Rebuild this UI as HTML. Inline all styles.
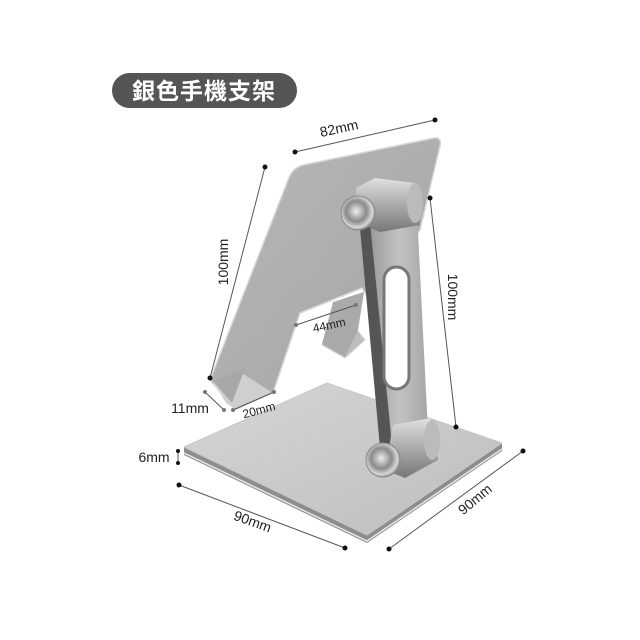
<!DOCTYPE html>
<html><head><meta charset="utf-8"><style>
html,body{margin:0;padding:0;background:#fff;}
svg{display:block}
text{font-family:"Liberation Sans","Noto Sans CJK TC",sans-serif;fill:#222;}
</style></head><body>
<svg width="640" height="640" viewBox="0 0 640 640" xmlns="http://www.w3.org/2000/svg">
<defs>
<linearGradient id="base" x1="0" y1="0" x2="1" y2="1">
<stop offset="0" stop-color="#d6d6d6"/><stop offset="1" stop-color="#bdbdbd"/></linearGradient>
<linearGradient id="plate" x1="0" y1="0" x2="1" y2="1">
<stop offset="0" stop-color="#b8b8b8"/><stop offset="1" stop-color="#a4a4a4"/></linearGradient>
<linearGradient id="arm" x1="0" y1="0" x2="1" y2="0">
<stop offset="0" stop-color="#9a9a9a"/><stop offset="0.5" stop-color="#c2c2c2"/><stop offset="1" stop-color="#a6a6a6"/></linearGradient>
<radialGradient id="knob" cx="0.45" cy="0.45" r="0.6">
<stop offset="0" stop-color="#eee"/><stop offset="0.5" stop-color="#8a8a8a"/><stop offset="0.8" stop-color="#d8d8d8"/><stop offset="1" stop-color="#666"/></radialGradient>
<linearGradient id="cyl" x1="0" y1="0" x2="0" y2="1">
<stop offset="0" stop-color="#e0e0e0"/><stop offset="0.5" stop-color="#aaa"/><stop offset="1" stop-color="#777"/></linearGradient>
</defs>

<rect x="112" y="73" width="185" height="35" rx="17.5" fill="#555"/>
<text x="204" y="99" font-size="23" font-weight="bold" text-anchor="middle" style="fill:#fff" letter-spacing="1">銀色手機支架</text>

<!-- base -->
<polygon points="184,447 327,383 502,443 502,451 367,543 184,455" fill="#8d8d8d"/>
<polygon points="184,447 327,383 502,443 367,535" fill="url(#base)" stroke="#c8c8c8" stroke-width="1" stroke-linejoin="round"/>
<polyline points="184,453 367,541 502,449" fill="none" stroke="#e6e6e6" stroke-width="1.5"/>

<!-- back plate -->
<path d="M303,165 L434,138 Q442,137 440,146 L420,230 L370,300 L362,288 L300,313 L273,393 L230,403 L210,380 L288,180 Q292,168 303,165 Z" fill="url(#plate)" stroke="#d8d8d8" stroke-width="1.5"/>
<polygon points="213,381 240,372 273,393 236,410 226,403" fill="#cfcfcf"/>
<polygon points="213,381 245,368 232,403" fill="#a8a8a8"/>
<polygon points="322,345 355,327 365,340 345,358" fill="#bdbdbd" stroke="#d8d8d8"/>
<polygon points="333,302 364,292 358,330 345,357 322,344" fill="#aaa"/>

<!-- arm -->
<polygon points="360,228 372,222 392,445 380,448" fill="#555"/>
<polygon points="370,222 417,212 428,432 392,445" fill="url(#arm)"/>
<rect x="384" y="267" width="25" height="122" rx="12.5" fill="#fff" stroke="#777" stroke-width="3"/>
<polygon points="356,188 375,178 415,183 420,225 380,232 356,222" fill="url(#cyl)"/>
<ellipse cx="415" cy="203" rx="8" ry="20" fill="#bbb"/>
<circle cx="358" cy="213" r="17" fill="url(#knob)" stroke="#888"/>
<polygon points="393,425 430,418 438,460 405,478 385,470" fill="url(#cyl)"/>
<ellipse cx="432" cy="440" rx="8" ry="20" fill="#bbb"/>
<circle cx="383" cy="460" r="17" fill="url(#knob)" stroke="#888"/>

<g stroke="#555" stroke-width="1" fill="none">
<line x1="295" y1="152" x2="435" y2="120"/>
<line x1="265" y1="167" x2="210" y2="378"/>
<line x1="430" y1="198" x2="456" y2="427"/>
<line x1="296" y1="325" x2="356" y2="305"/>
<line x1="205" y1="392" x2="224" y2="410"/>
<line x1="233" y1="410" x2="274" y2="392"/>
<line x1="178" y1="451" x2="178" y2="463"/>
<line x1="179" y1="485" x2="345" y2="548"/>
<line x1="389" y1="549" x2="523" y2="451"/>
</g>
<g fill="#111">
<circle cx="295" cy="152" r="2.5"/><circle cx="435" cy="120" r="2.5"/>
<circle cx="265" cy="167" r="2.5"/><circle cx="210" cy="378" r="2.5"/>
<circle cx="430" cy="198" r="2.5"/><circle cx="456" cy="427" r="2.5"/>
<circle cx="296" cy="325" r="2" fill="#777"/><circle cx="356" cy="305" r="2" fill="#777"/>
<circle cx="205" cy="392" r="2" fill="#777"/><circle cx="224" cy="410" r="2" fill="#777"/>
<circle cx="233" cy="410" r="2" fill="#777"/><circle cx="274" cy="392" r="2" fill="#777"/>
<circle cx="178" cy="451" r="2"/><circle cx="178" cy="463" r="2"/>
<circle cx="179" cy="485" r="2.5"/><circle cx="345" cy="548" r="2.5"/>
<circle cx="389" cy="549" r="2.5"/><circle cx="523" cy="451" r="2.5"/>
</g>
<g font-size="14">
<text transform="translate(340,133) rotate(-12)" text-anchor="middle">82mm</text>
<text transform="translate(228,262) rotate(-90)" text-anchor="middle">100mm</text>
<text transform="translate(448,297) rotate(90)" text-anchor="middle">100mm</text>
<text transform="translate(330,329) rotate(-12)" text-anchor="middle" font-size="12">44mm</text>
<text x="190" y="413" text-anchor="middle">11mm</text>
<text transform="translate(260,414) rotate(-15)" text-anchor="middle" font-size="12">20mm</text>
<text x="154" y="462" text-anchor="middle">6mm</text>
<text transform="translate(251,526) rotate(20)" text-anchor="middle">90mm</text>
<text transform="translate(478,503) rotate(-40)" text-anchor="middle">90mm</text>
</g>
</svg>
</body></html>
